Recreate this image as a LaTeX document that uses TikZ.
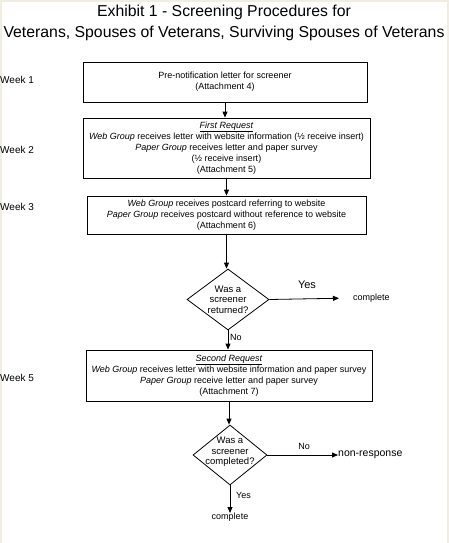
\documentclass[tikz,border=0pt]{standalone}
\usepackage{fontspec}
\setmainfont{Liberation Sans}
\usetikzlibrary{shapes.geometric,arrows.meta}
\definecolor{bgbeige}{RGB}{240,238,226}
\begin{document}
\begin{tikzpicture}[x=1pt,y=-1pt,
  box/.style={draw,line width=0.8pt,inner sep=0pt,align=center,font=\fontsize{9}{11}\selectfont},
  dec/.style={draw,diamond,line width=0.8pt,inner sep=0pt},
  dtext/.style={inner sep=0pt,align=center,font=\fontsize{9.5}{10.5}\selectfont},
  lbl/.style={inner sep=0pt,font=\fontsize{9}{11}\selectfont},
  biglbl/.style={inner sep=0pt,font=\fontsize{11}{13}\selectfont},
  wk/.style={inner sep=0pt,anchor=west,font=\fontsize{10}{12}\selectfont},
  arr/.style={-{Triangle[length=6pt,width=5pt]},line width=0.8pt}]
\fill[bgbeige] (0,0) rectangle (449,543);
\fill[white] (1.5,2) rectangle (446.5,543);
\useasboundingbox (0,0) rectangle (449,543);

\node[inner sep=0pt,align=center,font=\fontsize{15.8}{20.5}\selectfont] (title) at (224,23)
  {Exhibit 1 - Screening Procedures for\\Veterans, Spouses of Veterans, Surviving Spouses of Veterans};

\node[wk] (w1) at (0,80) {Week 1};
\node[wk] (w2) at (0,150) {Week 2};
\node[wk] (w3) at (0,207) {Week 3};
\node[wk] (w5) at (0,378) {Week 5};

\node[box,minimum width=284pt,minimum height=40pt] (b1) at (225,82)
  {Pre-notification letter for screener\\(Attachment 4)};
\node[box,minimum width=287pt,minimum height=60pt] (b2) at (226.5,148)
  {\underline{\textit{First Request}}\\\textit{Web Group} receives letter with website information (½ receive insert)\\\textit{Paper Group} receives letter and paper survey\\(½ receive insert)\\(Attachment 5)};
\node[box,minimum width=279pt,minimum height=38pt] (b3) at (226.5,215)
  {\textit{Web Group} receives postcard referring to website\\\textit{Paper Group} receives postcard without reference to website\\(Attachment 6)};
\node[dec,minimum width=82pt,minimum height=61pt] (d1) at (228,299.5) {};
\node[dtext] (d1t) at (d1) {Was a\\screener\\returned?};
\node[lbl,anchor=west] (c1) at (353,298) {complete};
\node[biglbl] (y1) at (307,285) {Yes};
\node[lbl,anchor=west] (n1) at (230,337) {No};
\node[box,minimum width=286pt,minimum height=51pt] (b4) at (229,375.5)
  {\underline{\textit{Second Request}}\\\textit{Web Group} receives letter with website information and paper survey\\\textit{Paper Group} receive letter and paper survey\\(Attachment 7)};
\node[dec,minimum width=74pt,minimum height=60pt] (d2) at (230,455) {};
\node[dtext] (d2t) at (230,452) {Was a\\screener\\completed?};
\node[inner sep=0pt,anchor=west,font=\fontsize{10.5}{12}\selectfont] (nr) at (338,455) {non-response};
\node[lbl] (n2) at (304,446) {No};
\node[lbl,anchor=west] (y2) at (236,495) {Yes};
\node[lbl,anchor=north] (c2) at (230,513) {complete};

\draw[arr] (b1.south) -- (b1.south |- b2.north);
\draw[arr] (b2.south) -- (b2.south |- b3.north);
\draw[arr] (b3.south) -- (b3.south |- d1.north);
\draw[arr,shorten >=14pt] (d1.east) -- (c1.west);
\draw[arr] (d1.south) -- (d1.south |- b4.north);
\draw[arr] (b4.south) -- (b4.south |- d2.north);
\draw[arr] (d2.east) -- (nr.west);
\draw[arr] (d2.south) -- (c2.north);
\end{tikzpicture}
\end{document}
